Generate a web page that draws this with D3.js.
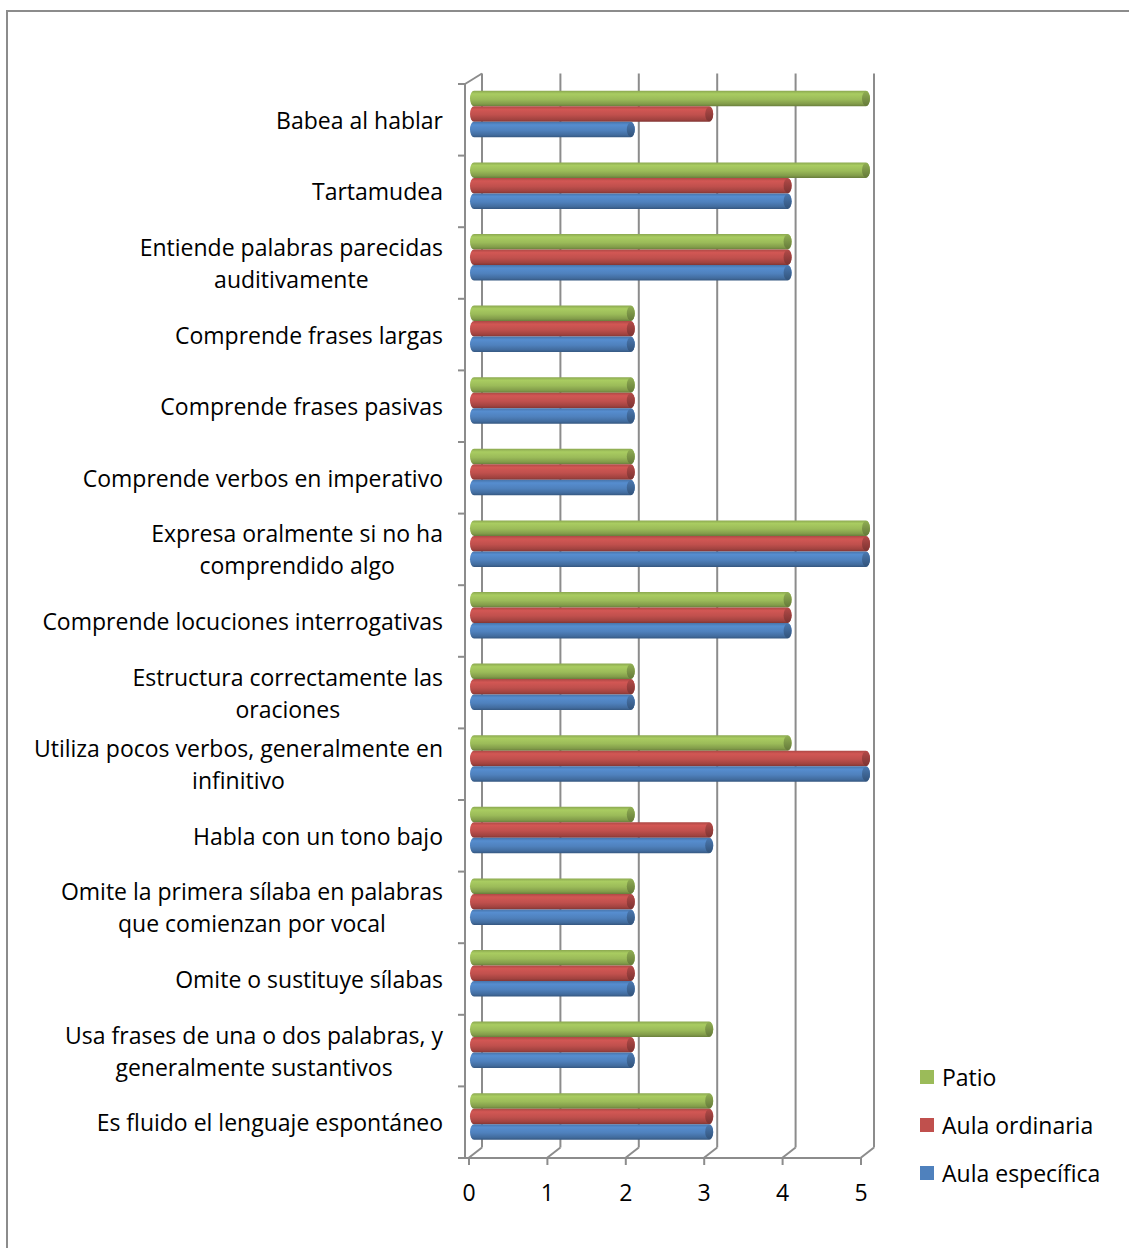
<!DOCTYPE html>
<html>
<head>
<meta charset="utf-8">
<script src="https://cdn.jsdelivr.net/npm/d3@7"></script>
<style>
  html, body { margin: 0; padding: 0; background: #fff; }
  svg { display: block; }
  text { font-family: "Open Sans", Lato, sans-serif; fill: #000; }
</style>
</head>
<body>
<svg id="chart" width="1129" height="1248"></svg>
<script>
// Items of the observation sheet, top to bottom ("\n" marks the label break)
const categories = [
  "Babea al hablar",
  "Tartamudea",
  "Entiende palabras parecidas\nauditivamente",
  "Comprende frases largas",
  "Comprende frases pasivas",
  "Comprende verbos en imperativo",
  "Expresa oralmente si no ha\ncomprendido algo",
  "Comprende locuciones interrogativas",
  "Estructura correctamente las\noraciones",
  "Utiliza pocos verbos, generalmente en\ninfinitivo",
  "Habla con un tono bajo",
  "Omite la primera sílaba en palabras\nque comienzan por vocal",
  "Omite o sustituye sílabas",
  "Usa frases de una o dos palabras, y\ngeneralmente sustantivos",
  "Es fluido el lenguaje espontáneo"
];

const seriesNames = ["Patio", "Aula ordinaria", "Aula específica"];

const patio          = [5, 5, 4, 2, 2, 2, 5, 4, 2, 4, 2, 2, 2, 3, 3];
const aulaOrdinaria  = [3, 4, 4, 2, 2, 2, 5, 4, 2, 5, 3, 2, 2, 2, 3];
const aulaEspecifica = [2, 4, 4, 2, 2, 2, 5, 4, 2, 5, 3, 2, 2, 2, 3];

const xTicks = [0, 1, 2, 3, 4, 5];

const seriesValues = [patio, aulaOrdinaria, aulaEspecifica];
const seriesColors = ["#9bbb59", "#c0504d", "#4f81bd"];

const fontSize = "23px";
const svg = d3.select("#chart");

// outer chart-area frame
svg.append("rect")
  .attr("x", 7).attr("y", 11)
  .attr("width", 1140).attr("height", 1260)
  .attr("fill", "none").attr("stroke", "#8c8c8c").attr("stroke-width", 2);

// front plane of the 3D box
const plotLeft = 468.5, plotRight = 860.5, plotTop = 84, plotBottom = 1158;
// depth of the box (back wall offset)
const depthX = 13.5, depthY = -10.5;

const x = d3.scaleLinear().domain([0, 5]).range([plotLeft, plotRight]);
const yCat = d3.scaleBand().domain(d3.range(categories.length)).range([plotTop, plotBottom]);
const yBar = d3.scaleBand().domain(d3.range(categories.length)).range([plotTop, plotBottom])
  .paddingInner(0.35).paddingOuter(0.175);
const ySeries = d3.scaleBand().domain(d3.range(seriesNames.length)).range([0, yBar.bandwidth()]);

const gridColor = "#8c8c8c";
const grid = svg.append("g").attr("stroke", gridColor).attr("stroke-width", 2).attr("fill", "none");

// back-wall vertical gridlines and the floor edges running back
xTicks.forEach(t => {
  grid.append("line")
    .attr("x1", x(t) + depthX).attr("x2", x(t) + depthX)
    .attr("y1", plotTop + depthY).attr("y2", plotBottom + depthY);
  grid.append("line")
    .attr("x1", x(t)).attr("y1", plotBottom)
    .attr("x2", x(t) + depthX).attr("y2", plotBottom + depthY);
});

// front left axis and floor front edge
const axisX = plotLeft - 3.5;
grid.append("line").attr("x1", axisX).attr("x2", axisX).attr("y1", plotTop).attr("y2", plotBottom);
grid.append("line").attr("x1", axisX).attr("x2", plotRight).attr("y1", plotBottom).attr("y2", plotBottom);
// top-left corner edge
grid.append("line")
  .attr("x1", axisX).attr("y1", plotTop)
  .attr("x2", x(0) + depthX).attr("y2", plotTop + depthY);

// category tick marks on the left axis
d3.range(categories.length + 1).forEach(i => {
  const yy = i < categories.length ? yCat(i) : plotBottom;
  grid.append("line").attr("x1", axisX - 7).attr("x2", axisX).attr("y1", yy).attr("y2", yy);
});

// bottom value axis
const xAxis = d3.axisBottom(x).tickValues(xTicks).tickSize(7).tickPadding(20).tickFormat(d3.format("d"));
const gx = svg.append("g").attr("transform", `translate(0,${plotBottom})`).call(xAxis);
gx.select(".domain").remove();
gx.selectAll(".tick line").attr("stroke", gridColor).attr("stroke-width", 2);
gx.selectAll(".tick text")
  .style("font-family", "'Open Sans', Lato, sans-serif")
  .style("font-size", fontSize).attr("fill", "#000");

// cylinder shading gradients
const defs = svg.append("defs");
seriesColors.forEach((c, i) => {
  const base = d3.color(c);
  const g = defs.append("linearGradient").attr("id", "cyl" + i)
    .attr("x1", 0).attr("y1", 0).attr("x2", 0).attr("y2", 1);
  g.append("stop").attr("offset", "0%").attr("stop-color", base.darker(0.3));
  g.append("stop").attr("offset", "20%").attr("stop-color", base.brighter(0.25));
  g.append("stop").attr("offset", "55%").attr("stop-color", base);
  g.append("stop").attr("offset", "85%").attr("stop-color", base.darker(0.5));
  g.append("stop").attr("offset", "100%").attr("stop-color", base.darker(1.1));
  const cap = defs.append("linearGradient").attr("id", "cap" + i)
    .attr("x1", 0).attr("y1", 0).attr("x2", 0).attr("y2", 1);
  cap.append("stop").attr("offset", "0%").attr("stop-color", base.darker(0.2));
  cap.append("stop").attr("offset", "100%").attr("stop-color", base.darker(1.2));
});

// bars sit part-way into the box depth
const midX = 5.5, midY = depthY / 2 - 0.5;
const rx = 4;
const bars = svg.append("g");
categories.forEach((cat, ci) => {
  seriesValues.forEach((vals, si) => {
    const v = vals[ci];
    const y0 = yBar(ci) + ySeries(si) + midY;
    const h = ySeries.bandwidth();
    const x0 = x(0) + midX;
    const x1 = x(v) + midX;
    const ry = h / 2;
    const cy = y0 + ry;
    // body with rounded back end
    bars.append("path")
      .attr("d", `M${x0},${y0} L${x1},${y0} A${rx},${ry} 0 0 1 ${x1},${y0 + h} L${x0},${y0 + h} A${rx},${ry} 0 0 1 ${x0},${y0} Z`)
      .attr("fill", `url(#cyl${si})`);
    // visible end cap
    bars.append("ellipse")
      .attr("cx", x1).attr("cy", cy).attr("rx", rx).attr("ry", ry - 0.5)
      .attr("fill", `url(#cap${si})`);
  });
});

// category labels, right-aligned as a block, lines centred on each other
const labelRight = 443;
const lineGap = 32;
const labels = svg.append("g").style("font-size", fontSize);
categories.forEach((cat, ci) => {
  const lines = cat.split("\n");
  const cy = yCat(ci) + yCat.bandwidth() / 2;
  const t = labels.append("text").attr("text-anchor", "middle").attr("dominant-baseline", "central");
  lines.forEach((ln, li) => {
    t.append("tspan").attr("y", cy + (li - (lines.length - 1) / 2) * lineGap).text(ln);
  });
  let maxW = 0;
  t.selectAll("tspan").each(function () { maxW = Math.max(maxW, this.getComputedTextLength()); });
  t.selectAll("tspan").attr("x", labelRight - maxW / 2);
});

// legend
const legend = svg.append("g").style("font-size", fontSize);
seriesNames.forEach((name, i) => {
  const yy = 1077 + i * 48;
  legend.append("rect").attr("x", 920).attr("y", yy - 7).attr("width", 14).attr("height", 14)
    .attr("fill", seriesColors[i]);
  legend.append("text").attr("x", 942).attr("y", yy).attr("dominant-baseline", "central").text(name);
});
</script>
</body>
</html>
